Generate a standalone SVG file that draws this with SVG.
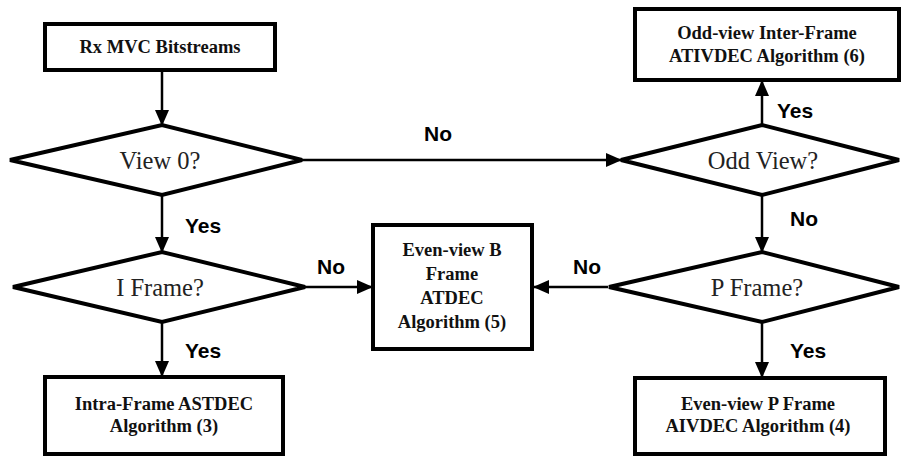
<svg xmlns="http://www.w3.org/2000/svg" width="902" height="457" viewBox="0 0 902 457">
<defs>
<marker id="ah" markerUnits="userSpaceOnUse" markerWidth="16" markerHeight="14" refX="15" refY="7" orient="auto">
<path d="M0,0 L16,7 L0,14 Z" fill="#000"/>
</marker>
<style>
.box{fill:#fff;stroke:#000;stroke-width:4}
.dia{fill:#fff;stroke:#000;stroke-width:4;stroke-linejoin:miter}
.bt{font-family:"Liberation Serif","Times New Roman",serif;font-weight:bold;font-size:18.5px;fill:#111;text-anchor:middle}
.dt{font-family:"Liberation Serif","Times New Roman",serif;font-size:24.5px;fill:#222;text-anchor:middle}
.lb{font-family:"Liberation Sans",Arial,sans-serif;font-weight:bold;font-size:21px;fill:#000}
.ln{fill:none;stroke:#000;stroke-width:2.5;marker-end:url(#ah)}
</style>
</defs>
<rect width="902" height="457" fill="#fff"/>
<g id="connectors">
<line class="ln" x1="162" y1="71" x2="162" y2="125"/>
<line class="ln" x1="302" y1="160" x2="621" y2="160"/>
<line class="ln" x1="162" y1="195" x2="162" y2="252"/>
<line class="ln" x1="305" y1="287" x2="372" y2="287"/>
<line class="ln" x1="162" y1="322" x2="162" y2="376"/>
<line class="ln" x1="762" y1="125" x2="762" y2="81"/>
<line class="ln" x1="762" y1="195" x2="762" y2="252"/>
<line class="ln" x1="608" y1="287" x2="534" y2="287"/>
<line class="ln" x1="762" y1="322" x2="762" y2="377"/>
<text class="lb" x="424" y="141">No</text>
<text class="lb" x="185" y="233">Yes</text>
<text class="lb" x="185" y="358">Yes</text>
<text class="lb" x="317" y="274">No</text>
<text class="lb" x="573" y="274">No</text>
<text class="lb" x="777" y="118">Yes</text>
<text class="lb" x="790" y="226">No</text>
<text class="lb" x="790" y="358">Yes</text>
</g>
<g id="rx">
<rect class="box" x="45" y="24" width="230" height="46"/>
<text class="bt" x="160" y="53">Rx MVC Bitstreams</text>
</g>
<g id="view0">
<polygon class="dia" points="10,160 162,125 302,160 162,195"/>
<text class="dt" x="160" y="169">View 0?</text>
</g>
<g id="iframe">
<polygon class="dia" points="13,287 162,252 305,287 162,322"/>
<text class="dt" x="160" y="296">I Frame?</text>
</g>
<g id="intra">
<rect class="box" x="45" y="377" width="238" height="77"/>
<text class="bt" x="164" y="410">Intra-Frame ASTDEC</text>
<text class="bt" x="164" y="432">Algorithm (3)</text>
</g>
<g id="evenb">
<rect class="box" x="373" y="225" width="159" height="124"/>
<text class="bt" x="452" y="256">Even-view B</text>
<text class="bt" x="452" y="280">Frame</text>
<text class="bt" x="452" y="304">ATDEC</text>
<text class="bt" x="452" y="328">Algorithm (5)</text>
</g>
<g id="oddview">
<polygon class="dia" points="621,160 762,125 899,160 762,195"/>
<text class="dt" x="763" y="169">Odd View?</text>
</g>
<g id="oddinter">
<rect class="box" x="635" y="9" width="264" height="71"/>
<text class="bt" x="767" y="39">Odd-view Inter-Frame</text>
<text class="bt" x="767" y="62">ATIVDEC Algorithm (6)</text>
</g>
<g id="pframe">
<polygon class="dia" points="609,287 762,252 899,287 762,322"/>
<text class="dt" x="757" y="296">P Frame?</text>
</g>
<g id="evenp">
<rect class="box" x="635" y="378" width="250" height="76"/>
<text class="bt" x="758" y="410">Even-view P Frame</text>
<text class="bt" x="758" y="432">AIVDEC Algorithm (4)</text>
</g>
</svg>
